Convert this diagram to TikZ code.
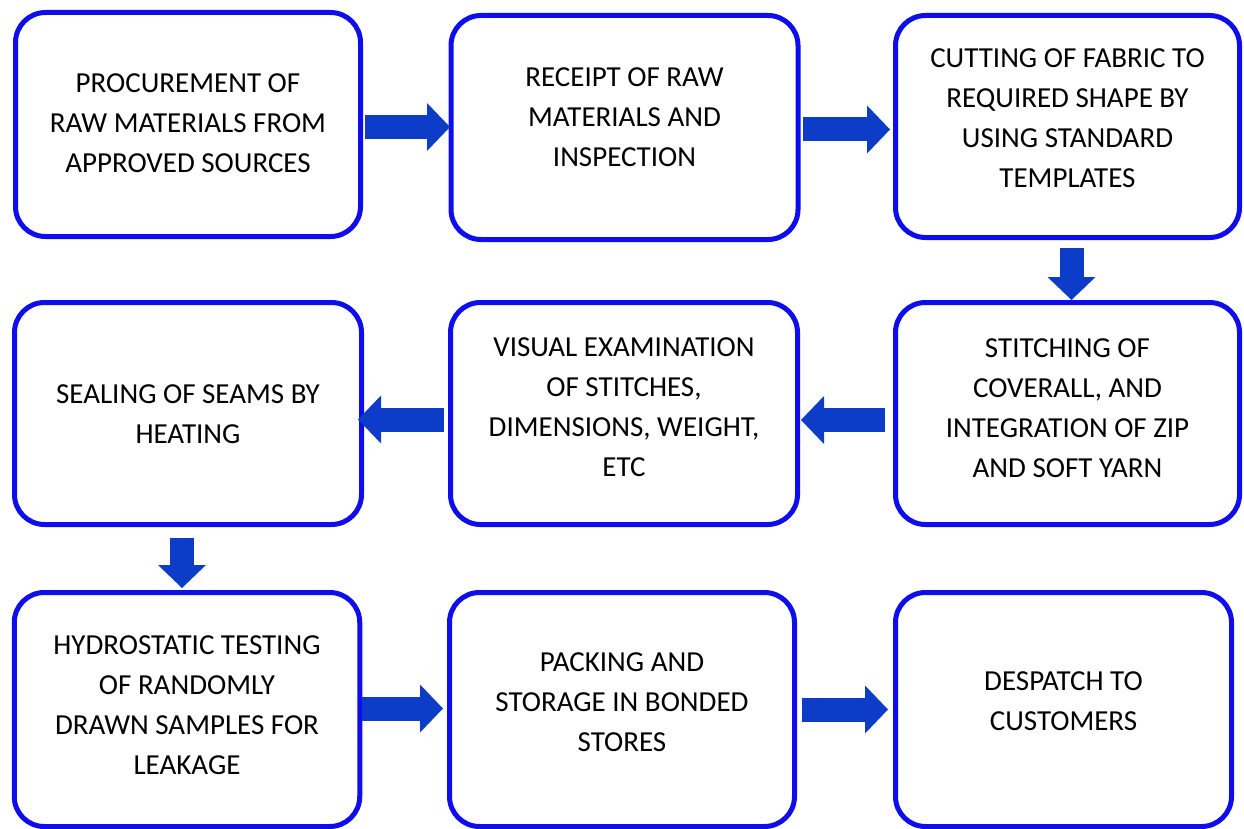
\documentclass[tikz,border=0pt]{standalone}
\usepackage{fontspec}
\setmainfont{Carlito}
\usetikzlibrary{arrows.meta}
\definecolor{boxblue}{RGB}{14,14,236}
\definecolor{flowblue}{RGB}{12,60,200}
\begin{document}
\begin{tikzpicture}[x=1pt,y=-1pt,
  stepbox/.style={draw=boxblue, line width=5pt, rounded corners=30pt, fill=white,
    outer sep=0pt, inner sep=0pt},
  steptext/.style={align=center, inner sep=0pt, text=black,
    font=\fontsize{29}{40}\selectfont},
  flow/.style={draw=flowblue, line width=24pt,
    -{Triangle[length=23pt,width=48pt,line width=0pt]}},
]
\useasboundingbox (0,0) rectangle (1244,829);

% process boxes
\node[stepbox, minimum width=345, minimum height=224] (b1) at (188,124.5) {};
\node[stepbox, minimum width=347, minimum height=224] (b2) at (624.5,127.5) {};
\node[stepbox, minimum width=344, minimum height=222] (b3) at (1067.5,126.5) {};
\node[stepbox, minimum width=347, minimum height=222] (b4) at (188,413.5) {};
\node[stepbox, minimum width=347, minimum height=222] (b5) at (624,413.5) {};
\node[stepbox, minimum width=344, minimum height=222] (b6) at (1067.5,413.5) {};
\node[stepbox, minimum width=345.5, minimum height=234] (b7) at (187,709.5) {};
\node[stepbox, minimum width=345, minimum height=234] (b8) at (622,709.5) {};
\node[stepbox, minimum width=336, minimum height=234] (b9) at (1063.5,709.5) {};

% box captions
\node[steptext] (t1) at ([shift={(0,-1)}]b1.center) {PROCUREMENT OF\\RAW MATERIALS FROM\\APPROVED SOURCES};
\node[steptext] (t2) at ([shift={(0,-10)}]b2.center) {RECEIPT OF RAW\\MATERIALS AND\\INSPECTION};
\node[steptext] (t3) at ([shift={(0,-8.5)}]b3.center) {CUTTING OF FABRIC TO\\REQUIRED SHAPE BY\\USING STANDARD\\TEMPLATES};
\node[steptext] (t4) at ([shift={(0,1)}]b4.center) {SEALING OF SEAMS BY\\HEATING};
\node[steptext] (t5) at ([shift={(0,-6)}]b5.center) {VISUAL EXAMINATION\\OF STITCHES,\\DIMENSIONS, WEIGHT,\\ETC};
\node[steptext] (t6) at ([shift={(0,-5.5)}]b6.center) {STITCHING OF\\COVERALL, AND\\INTEGRATION OF ZIP\\AND SOFT YARN};
\node[steptext] (t7) at ([shift={(0,-4.5)}]b7.center) {HYDROSTATIC TESTING\\OF RANDOMLY\\DRAWN SAMPLES FOR\\LEAKAGE};
\node[steptext] (t8) at ([shift={(0,-7)}]b8.center) {PACKING AND\\STORAGE IN BONDED\\STORES};
\node[steptext] (t9) at ([shift={(0,-8.7)}]b9.center) {DESPATCH TO\\CUSTOMERS};

% block arrows between the steps
\draw[flow] ([shift={(4,2.5)}]b1.east) -- ([shift={(-1,-0.5)}]b2.west);
\draw[flow] ([shift={(5,2)}]b2.east) -- ([shift={(-5.5,3)}]b3.west);
\draw[flow] ([shift={(4,10.5)}]b3.south) -- ([shift={(4,-2.5)}]b6.north);
\draw[flow] ([shift={(-10.5,6.5)}]b6.west) -- ([shift={(3.5,6.5)}]b5.east);
\draw[flow] ([shift={(-6.5,6)}]b5.west) -- ([shift={(-3.5,6)}]b4.east);
\draw[flow] ([shift={(-6,13.5)}]b4.south) -- ([shift={(-5,-4.5)}]b7.north);
\draw[flow] ([shift={(2.25,-1)}]b7.east) -- ([shift={(-6.5,-1)}]b8.west);
\draw[flow] ([shift={(7.5,0)}]b8.east) -- ([shift={(-7.5,0)}]b9.west);
\end{tikzpicture}
\end{document}
